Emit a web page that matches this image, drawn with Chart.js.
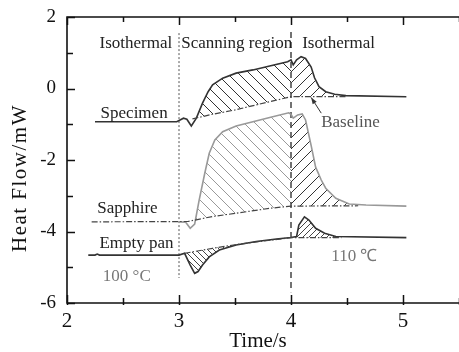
<!DOCTYPE html>
<html>
<head>
<meta charset="utf-8">
<script src="https://cdn.jsdelivr.net/npm/chart.js@4/dist/chart.umd.min.js"></script>
<style>
  body { margin: 0; background: #fff; }
  canvas { display: block; }
</style>
</head>
<body>
<canvas id="myChart" width="459" height="352"></canvas>
<script>
// values, [time, heat flow]
const specimen = [[2.25,-0.93],[2.98,-0.93],[3.04,-0.83],[3.07,-0.86],[3.11,-1.05],[3.155,-0.83],[3.21,-0.41],[3.26,-0.09],[3.30,0.10],[3.39,0.29],[3.51,0.43],[3.66,0.52],[3.81,0.63],[3.97,0.75],[4.0,0.80],[4.02,0.66],[4.05,0.80],[4.09,0.89],[4.13,0.84],[4.18,0.60],[4.21,0.30],[4.25,0.05],[4.31,-0.09],[4.39,-0.16],[4.49,-0.20],[5.03,-0.23]]
const specimenBase = [[3.12,-0.85],[3.3,-0.72],[3.5,-0.60],[3.7,-0.45],[3.85,-0.34],[4.0,-0.23],[4.5,-0.23]]
const sapphire = [[3.0,-3.73],[3.06,-3.74],[3.10,-3.91],[3.14,-3.79],[3.18,-3.12],[3.23,-2.37],[3.27,-1.81],[3.32,-1.44],[3.39,-1.21],[3.51,-1.05],[3.66,-0.93],[3.81,-0.81],[3.98,-0.68],[4.0,-0.72],[4.02,-0.83],[4.06,-0.74],[4.10,-0.71],[4.13,-0.88],[4.18,-1.60],[4.22,-2.20],[4.27,-2.56],[4.31,-2.79],[4.40,-3.07],[4.52,-3.23],[4.67,-3.26],[5.03,-3.29]]
const sapphireBase = [[2.22,-3.73],[3.08,-3.72],[3.3,-3.58],[3.51,-3.49],[3.81,-3.35],[4.0,-3.29],[4.6,-3.28]]
const emptyPan = [[2.19,-4.66],[2.25,-4.66],[2.27,-4.63],[2.29,-4.66],[3.0,-4.66],[3.05,-4.61],[3.10,-4.94],[3.14,-5.17],[3.17,-5.12],[3.21,-4.94],[3.27,-4.71],[3.36,-4.52],[3.51,-4.38],[3.69,-4.28],[3.87,-4.21],[4.0,-4.17],[4.05,-4.14],[4.07,-3.82],[4.12,-3.59],[4.16,-3.68],[4.22,-3.91],[4.30,-4.05],[4.40,-4.14],[5.03,-4.17]]
const emptyBase = [[3.05,-4.61],[3.3,-4.47],[3.5,-4.37],[3.75,-4.27],[4.0,-4.17],[4.45,-4.17]]
const scanStart = [[3,1.55],[3,-5.3]]
const isoStart = [[4,1.58],[4,-5.7]]
const xTicks = [2,3,4,5]
const yTicks = [-6,-4,-2,0,2]
const xLabel = 'Time/s'
const yLabel = 'Heat Flow/mW'
// label text, x, y (data units)
const notes = [
	['Isothermal',2.29,1.27,'#222'],
	['Scanning region',3.02,1.27,'#222'],
	['Isothermal',4.1,1.27,'#222'],
	['Specimen',2.3,-0.69,'#222'],
	['Baseline',4.27,-0.94,'#555'],
	['Sapphire',2.27,-3.37,'#222'],
	['Empty pan',2.29,-4.35,'#222'],
	['100 \u00B0C',2.32,-5.27,'#777'],
	['110 \u2103',4.36,-4.71,'#777']
]
const arrowFrom = [4.27,-0.69]
const arrowTo = [4.18,-0.25]

function pts(arr){ return arr.map(p => ({x:p[0], y:p[1]})) }
function part(arr, a, b){ return pts(arr.filter(p => p[0] >= a && p[0] <= b)) }

function hatch(color, s, dir, lw){
	var c = document.createElement('canvas')
	c.width = s; c.height = s
	var g = c.getContext('2d')
	g.strokeStyle = color
	g.lineWidth = lw
	g.beginPath()
	for (var k = -1; k <= 1; k++){
		if (dir == '\\'){ g.moveTo(k*s, 0); g.lineTo(k*s+s, s) }
		else { g.moveTo(k*s, s); g.lineTo(k*s+s, 0) }
	}
	g.stroke()
	return document.getElementById('myChart').getContext('2d').createPattern(c, 'repeat')
}

const dark = '#333'
const baseStyle = {borderColor:'#444', borderWidth:1.2, borderDash:[6,2,1.5,2], pointRadius:0, fill:false, tension:0}
const curveStyle = {borderWidth:1.6, pointRadius:0, fill:false, tension:0}
const fillStyle = {borderWidth:0, borderColor:'rgba(0,0,0,0)', pointRadius:0, tension:0}

var datasets = [
	// 0..2 baselines
	Object.assign({data: pts(specimenBase)}, baseStyle),
	Object.assign({data: pts(sapphireBase)}, baseStyle),
	Object.assign({data: pts(emptyBase)}, baseStyle),
	// curves
	Object.assign({data: pts(specimen), borderColor: dark}, curveStyle),
	Object.assign({data: pts(sapphire), borderColor: '#999'}, curveStyle),
	Object.assign({data: pts(emptyPan), borderColor: dark}, curveStyle),
	// markers of the three stages
	{data: pts(scanStart), borderColor:'#555', borderWidth:1, borderDash:[2,2], pointRadius:0, fill:false},
	{data: pts(isoStart), borderColor:'#444', borderWidth:1.5, borderDash:[6,4], pointRadius:0, fill:false},
	// hatched areas
	Object.assign({data: part(specimen, 3.155, 4.0), fill: 0, backgroundColor: hatch('#333', 11, '\\', 1)}, fillStyle),
	Object.assign({data: part(specimen, 4.0, 4.5), fill: 0, backgroundColor: hatch('#333', 11, '/', 1)}, fillStyle),
	Object.assign({data: part(sapphire, 3.14, 4.0), fill: 1, backgroundColor: hatch('#999', 11, '\\', 1)}, fillStyle),
	Object.assign({data: part(sapphire, 4.0, 4.6), fill: 1, backgroundColor: hatch('#333', 11, '/', 1)}, fillStyle),
	Object.assign({data: part(emptyPan, 3.05, 4.0), fill: 2, backgroundColor: hatch('#444', 6, '\\', 1)}, fillStyle),
	Object.assign({data: part(emptyPan, 4.05, 4.45), fill: 2, backgroundColor: hatch('#444', 6, '/', 1)}, fillStyle)
]

const serif = "'Liberation Serif', 'Times New Roman', serif"

const decor = {
	id: 'decor',
	afterDraw(chart){
		var ctx = chart.ctx, a = chart.chartArea
		var xs = chart.scales.x, ys = chart.scales.y
		ctx.save()
		// frame
		ctx.strokeStyle = '#111'
		ctx.lineWidth = 1.6
		ctx.beginPath()
		ctx.moveTo(a.right+2, a.top); ctx.lineTo(a.left, a.top); ctx.lineTo(a.left, a.bottom); ctx.lineTo(a.right+2, a.bottom)
		ctx.stroke()
		// inward ticks
		ctx.lineWidth = 1.5
		ctx.beginPath()
		for (var v = 2; v <= 5.5; v += 0.5){
			var px = Math.round(xs.getPixelForValue(v)) + 0.5
			var tl = Number.isInteger(v) ? 8 : 5
			ctx.moveTo(px, a.bottom+2); ctx.lineTo(px, a.bottom-tl)
			ctx.moveTo(px, a.top); ctx.lineTo(px, a.top+tl)
		}
		for (var w = -6; w <= 2; w += 1){
			var py = Math.round(ys.getPixelForValue(w)) + 0.5
			ctx.moveTo(a.left, py); ctx.lineTo(a.left + (w % 2 == 0 ? 8 : 6), py)
		}
		ctx.stroke()
		// axis titles
		ctx.fillStyle = '#111'
		ctx.textAlign = 'center'
		ctx.textBaseline = 'middle'
		ctx.font = '21px ' + serif
		ctx.fillText(xLabel, 258, 341)
		ctx.save()
		ctx.translate(20, 178)
		ctx.rotate(-Math.PI/2)
		ctx.letterSpacing = '1.5px'
		ctx.fillText(yLabel, 0, 0)
		ctx.restore()
		// notes
		ctx.textAlign = 'left'
		ctx.font = '17px ' + serif
		notes.forEach(n => {
			ctx.fillStyle = n[3]
			ctx.fillText(n[0], xs.getPixelForValue(n[1]), ys.getPixelForValue(n[2]))
		})
		// arrow to baseline
		var x1 = xs.getPixelForValue(arrowFrom[0]), y1 = ys.getPixelForValue(arrowFrom[1])
		var x2 = xs.getPixelForValue(arrowTo[0]), y2 = ys.getPixelForValue(arrowTo[1])
		ctx.strokeStyle = '#333'
		ctx.lineWidth = 1
		ctx.beginPath(); ctx.moveTo(x1, y1); ctx.lineTo(x2, y2); ctx.stroke()
		var ang = Math.atan2(y2-y1, x2-x1)
		ctx.fillStyle = '#333'
		ctx.beginPath()
		ctx.moveTo(x2, y2)
		ctx.lineTo(x2 - 7*Math.cos(ang-0.35), y2 - 7*Math.sin(ang-0.35))
		ctx.lineTo(x2 - 7*Math.cos(ang+0.35), y2 - 7*Math.sin(ang+0.35))
		ctx.closePath(); ctx.fill()
		ctx.restore()
	}
}

new Chart(document.getElementById('myChart'), {
	type: 'line',
	data: { datasets: datasets },
	options: {
		responsive: false,
		animation: false,
		layout: { padding: { top: 17, right: 0, left: 0, bottom: 0 } },
		plugins: { legend: {display:false}, tooltip: {enabled:false} },
		scales: {
			x: {
				type: 'linear', min: 2, max: 5.5,
				afterBuildTicks: s => { s.ticks = xTicks.map(v => ({value:v})) },
				ticks: { font: {family: serif, size: 21}, color: '#111', padding: -2, maxRotation: 0 },
				grid: { display: false }, border: { display: false },
				afterFit: s => { s.height = 49 }
			},
			y: {
				type: 'linear', min: -6, max: 2,
				afterBuildTicks: s => { s.ticks = yTicks.map(v => ({value:v})) },
				ticks: { font: {family: serif, size: 19}, color: '#111', padding: 3 },
				grid: { display: false }, border: { display: false },
				afterFit: s => { s.width = 67 }
			}
		}
	},
	plugins: [decor]
})
</script>
</body>
</html>
